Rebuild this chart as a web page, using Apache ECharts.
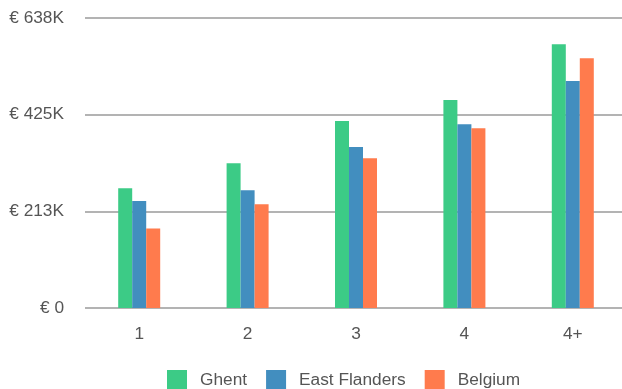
<!DOCTYPE html>
<html>
<head>
<meta charset="utf-8">
<script src="https://cdn.jsdelivr.net/npm/echarts@6/dist/echarts.min.js"></script>
<style>
  html, body { margin: 0; padding: 0; background: #fff; }
  #chart { width: 622px; height: 389px; }
</style>
</head>
<body>
<div id="chart"></div>
<script>
// Household size categories
const categories = ['1', '2', '3', '4', '4+'];

// Values in euro per region
const ghent = [263000, 318000, 411000, 457000, 580000];
const eastFlanders = [235000, 259000, 354000, 404000, 499000];
const belgium = [175000, 228000, 329000, 395000, 549000];

// Value axis range and tick step
const axisMax = 637500;
const axisStep = 212500;

const colors = ['#3ccb86', '#428ebf', '#ff7b4d'];
const font = '"Liberation Sans", Arial, sans-serif';

const chart = echarts.init(document.getElementById('chart'), null, { renderer: 'canvas' });

function euro(v) {
  return v === 0 ? '€ 0' : '€ ' + Math.round(v / 1000) + 'K';
}

chart.setOption({
  animation: false,
  color: colors,
  grid: {
    left: 85, width: 542, top: 18, height: 290,
    containLabel: false,
    outerBoundsMode: 'none'
  },
  legend: {
    left: 162,
    top: 365,
    itemWidth: 20,
    itemHeight: 20,
    itemGap: 19,
    icon: 'rect',
    textStyle: { color: '#555', fontSize: 17.3, fontFamily: font, padding: [0, 0, 0, 8] },
    data: ['Ghent', 'East Flanders', 'Belgium']
  },
  xAxis: {
    type: 'category',
    data: categories,
    axisLine: { show: false },
    axisTick: { show: false },
    axisLabel: { color: '#555', fontSize: 17.3, fontFamily: font, margin: 18 }
  },
  yAxis: {
    type: 'value',
    min: 0,
    max: axisMax,
    interval: axisStep,
    axisLine: { show: false },
    axisTick: { show: false },
    splitLine: { lineStyle: { color: '#b3b3b3', width: 2 } },
    axisLabel: { color: '#555', fontSize: 17.3, fontFamily: font, margin: 21, formatter: euro }
  },
  series: [
    { name: 'Ghent', type: 'bar', data: ghent, barWidth: 14, barGap: '0%' },
    { name: 'East Flanders', type: 'bar', data: eastFlanders, barWidth: 14, barGap: '0%' },
    { name: 'Belgium', type: 'bar', data: belgium, barWidth: 14, barGap: '0%' }
  ]
});
</script>
</body>
</html>
